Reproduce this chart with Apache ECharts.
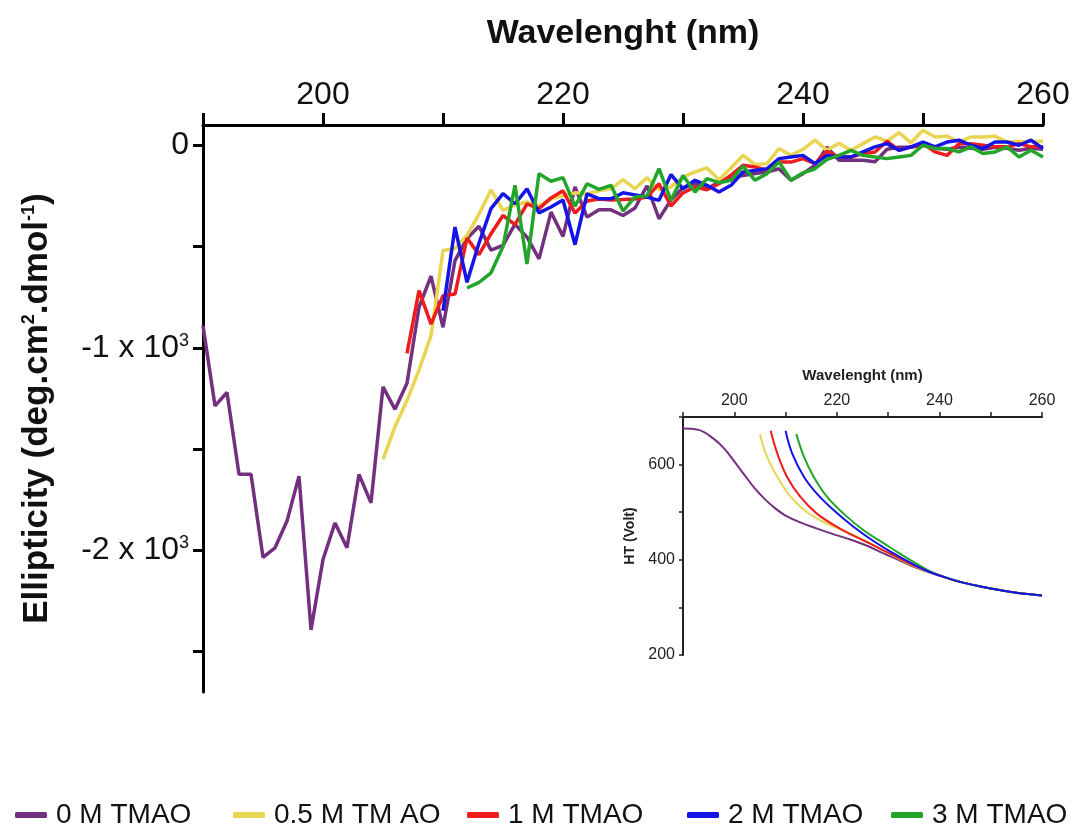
<!DOCTYPE html>
<html>
<head>
<meta charset="utf-8">
<script src="https://cdn.jsdelivr.net/npm/echarts@6/dist/echarts.min.js"></script>
<style>
html,body{margin:0;padding:0;background:#fff;}
#chart{width:1079px;height:834px;}
</style>
</head>
<body>
<div id="chart"></div>
<script>
// ---------- Data ----------
const seriesNames = ['0 M TMAO', '0.5 M TM AO', '1 M TMAO', '2 M TMAO', '3 M TMAO'];
const seriesColors = ['#73307f', '#e8d552', '#ee1c1c', '#1414e6', '#22a52a'];

// Main CD spectra: wavelength (nm) and ellipticity
const wl0 = [190,191,192,193,194,195,196,197,198,199,200,201,202,203,204,205,206,207,208,209,210,211,212,213,214,215,216,217,218,219,220,221,222,223,224,225,226,227,228,229,230,231,232,233,234,235,236,237,238,239,240,241,242,243,244,245,246,247,248,249,250,251,252,253,254,255,256,257,258,259,260];
const cd0 = [-891,-1287,-1221,-1625,-1625,-2035,-1988,-1856,-1634,-2393,-2046,-1865,-1988,-1625,-1766,-1193,-1304,-1175,-800,-646,-899,-570,-460,-400,-518,-495,-390,-454,-561,-330,-450,-206,-355,-318,-319,-347,-310,-200,-363,-270,-210,-190,-215,-182,-165,-149,-140,-132,-116,-173,-140,-99,-10,-74,-74,-74,-82,-20,-10,-10,0,-15,-20,-10,-15,-20,-10,-15,-25,-15,-20];

const wl05 = [205,206,207,208,209,210,211,212,213,214,215,216,217,218,219,220,221,222,223,224,225,226,227,228,229,230,231,232,233,234,235,236,237,238,239,240,241,242,243,244,245,246,247,248,249,250,251,252,253,254,255,256,257,258,259,260];
const cd05 = [-1551,-1390,-1260,-1110,-940,-520,-510,-445,-340,-221,-322,-295,-280,-300,-265,-250,-235,-240,-225,-215,-170,-215,-160,-220,-206,-157,-132,-112,-170,-112,-50,-95,-91,-16,-50,-20,25,-25,10,-25,8,41,20,62,12,74,41,45,15,41,41,45,16,18,18,20];

const wl1 = [207,208,209,210,211,212,213,214,215,216,217,218,219,220,221,222,223,224,225,226,227,228,229,230,231,232,233,234,235,236,237,238,239,240,241,242,243,244,245,246,247,248,249,250,251,252,253,254,255,256,257,258,259,260];
const cd1 = [-1028,-718,-883,-743,-735,-458,-540,-437,-347,-392,-289,-313,-260,-225,-335,-275,-265,-270,-268,-265,-256,-190,-300,-235,-206,-220,-190,-148,-99,-107,-124,-83,-83,-66,-91,-30,-58,-58,-41,-33,20,-25,-8,8,-33,-50,8,8,0,-8,-8,8,-8,-8];

const wl2 = [210,211,212,213,214,215,216,217,218,219,220,221,222,223,224,225,226,227,228,229,230,231,232,233,234,235,236,237,238,239,240,241,242,243,244,245,246,247,248,249,250,251,252,253,254,255,256,257,258,259,260];
const cd2 = [-817,-404,-677,-483,-313,-239,-289,-215,-334,-305,-270,-491,-240,-264,-264,-235,-245,-256,-272,-145,-215,-173,-198,-231,-198,-132,-124,-116,-66,-58,-50,-91,-50,-58,-58,-33,-8,8,-25,-8,16,-8,16,25,0,-16,16,16,0,25,-16];

const wl3 = [212,213,214,215,216,217,218,219,220,221,222,223,224,225,226,227,228,229,230,231,232,233,234,235,236,237,238,239,240,241,242,243,244,245,246,247,248,249,250,251,252,253,254,255,256,257,258,259,260];
const cd3 = [-705,-677,-630,-500,-198,-586,-140,-178,-160,-302,-190,-218,-198,-325,-255,-250,-116,-272,-150,-231,-165,-185,-173,-103,-173,-140,-83,-173,-136,-116,-70,-50,-25,-50,-58,-66,-58,-50,0,-16,-16,-33,-8,-41,-33,-8,-58,-25,-58];

// Inset: HT voltage
const htWl0 = [190,193,196,198,200,202,204,206,208,210,213,216,219,222.5,226,229,232,235.5,239,242,245,248.5,252,255,260];
const htV0  = [676,673,654,634,607,578,550,527,508,493,478,466,455,443,429,414,400,383,370,360,351,343,336,331,325];
const htWl05 = [205,206.4,208.4,211,214.2,218.1,222.6,227.1,230.4,234,237.5,242,245,248.5,252,255,260];
const htV05  = [664,616,574,532,500,476,455,431,412,392,376,360,351,343,336,331,325];
const htWl1 = [207.1,208.4,210.3,212.9,216.1,220.7,225.9,230.4,234,237.5,242,245,248.5,252,255,260];
const htV1  = [671,623,574,532,497,465,437,413,393,377,360,351,343,336,331,325];
const htWl2 = [210,211.3,213.6,216.1,219.4,223.3,227.2,231,234.5,238,242,245,248.5,252,255,260];
const htV2  = [671,623,574,539,504,469,439,414,393,375,360,351,343,336,331,325];
const htWl3 = [212.1,213.6,215.5,218.1,221.3,225.2,229.1,232.3,235.5,238.5,242,245,248.5,252,255,260];
const htV3  = [664,616,574,532,497,462,435,413,392,374,360,351,343,336,331,325];

// Axis tick labels
const mainXLabels = [200, 220, 240, 260];
const mainYTicks = [0, -500, -1000, -1500, -2000, -2500];
const mainYLabels = [0, -1000, -2000];
const insetYLabels = [200, 400, 600];

// ---------- Build ----------
const FONT = '"Liberation Sans", Arial, sans-serif';
const pair = (xs, ys) => xs.map((x, i) => [x, ys[i]]);
const mainSets = [pair(wl0, cd0), pair(wl05, cd05), pair(wl1, cd1), pair(wl2, cd2), pair(wl3, cd3)];
const insetSets = [pair(htWl0, htV0), pair(htWl05, htV05), pair(htWl1, htV1), pair(htWl2, htV2), pair(htWl3, htV3)];
const insetZ = [10, 11, 12, 14, 13];

const series = [];
mainSets.forEach((d, i) => series.push({
  name: seriesNames[i], type: 'line', xAxisIndex: 0, yAxisIndex: 0, data: d,
  showSymbol: false, symbol: 'none', lineStyle: { width: 3.5, color: seriesColors[i] },
  itemStyle: { color: seriesColors[i] }, z: 2 + i
}));
insetSets.forEach((d, i) => series.push({
  name: seriesNames[i], type: 'line', xAxisIndex: 1, yAxisIndex: 1, data: d,
  showSymbol: false, symbol: 'none', smooth: 0.4, lineStyle: { width: 2, color: seriesColors[i] },
  itemStyle: { color: seriesColors[i] }, z: insetZ[i]
}));

const legendLefts = [10, 228, 462, 682, 886];
const legends = seriesNames.map((n, i) => ({
  data: [n], left: legendLefts[i], top: 796, icon: 'roundRect', itemWidth: 32, itemHeight: 6,
  textStyle: { fontSize: 28, color: '#111', fontFamily: FONT, padding: [0, 0, 0, 4] },
  selectedMode: false
}));

const chart = echarts.init(document.getElementById('chart'), null, { renderer: 'canvas' });
chart.setOption({
  animation: false,
  backgroundColor: '#fff',
  legend: legends,
  grid: [
    { left: 203, top: 125, width: 840, height: 567, containLabel: false },
    { left: 683, top: 417, width: 359, height: 238, containLabel: false }
  ],
  xAxis: [
    {
      type: 'value', gridIndex: 0, position: 'top', min: 190, max: 260, interval: 10,
      axisLine: { show: true, onZero: false, lineStyle: { color: '#000', width: 3 } },
      axisTick: { show: true, length: 12, lineStyle: { color: '#000', width: 3 } },
      axisLabel: { margin: 14, fontSize: 32, color: '#111', fontFamily: FONT,
        formatter: v => mainXLabels.includes(v) ? String(v) : '' },
      splitLine: { show: false },
      name: 'Wavelenght (nm)', nameLocation: 'middle', nameGap: 74,
      nameTextStyle: { fontSize: 34, fontWeight: 'bold', color: '#111', fontFamily: FONT }
    },
    {
      type: 'value', gridIndex: 1, position: 'top', min: 190, max: 260, interval: 10,
      axisLine: { show: true, onZero: false, lineStyle: { color: '#222', width: 2 } },
      axisTick: { show: true, length: 5, lineStyle: { color: '#222', width: 1.5 } },
      axisLabel: { margin: 8, fontSize: 16, color: '#222', fontFamily: FONT,
        formatter: v => mainXLabels.includes(v) ? String(v) : '' },
      splitLine: { show: false },
      name: 'Wavelenght (nm)', nameLocation: 'middle', nameGap: 34,
      nameTextStyle: { fontSize: 15, fontWeight: 'bold', color: '#222', fontFamily: FONT }
    }
  ],
  yAxis: [
    {
      type: 'value', gridIndex: 0, min: -2700, max: 100,
      axisLine: { show: true, onZero: false, lineStyle: { color: '#000', width: 3 } },
      axisTick: { show: true, length: 10, customValues: mainYTicks, lineStyle: { color: '#000', width: 3 } },
      axisLabel: { margin: 14, fontSize: 32, color: '#111', fontFamily: FONT, customValues: mainYLabels,
        formatter: v => v === 0 ? '0' : (v / 1000) + ' x 10{sup|3}',
        rich: { sup: { fontSize: 18, verticalAlign: 'top', color: '#111', fontFamily: FONT, padding: [0, 0, 12, 0] } } },
      splitLine: { show: false },
      name: 'Ellipticity (deg.cm{s|2}.dmol{s|-1})', nameLocation: 'middle', nameRotate: 90, nameGap: 148,
      nameTextStyle: { fontSize: 35, fontWeight: 'bold', color: '#111', fontFamily: FONT,
        rich: { s: { fontSize: 18, fontWeight: 'bold', verticalAlign: 'top', fontFamily: FONT, color: '#111', padding: [0, 0, 16, 0] } } }
    },
    {
      type: 'value', gridIndex: 1, min: 200, max: 700, interval: 100,
      axisLine: { show: true, onZero: false, lineStyle: { color: '#222', width: 2 } },
      axisTick: { show: true, length: 4, lineStyle: { color: '#222', width: 1.5 } },
      axisLabel: { margin: 8, fontSize: 16, color: '#222', fontFamily: FONT,
        formatter: v => insetYLabels.includes(v) ? String(v) : '' },
      splitLine: { show: false },
      name: 'HT (Volt)', nameLocation: 'middle', nameRotate: 90, nameGap: 46,
      nameTextStyle: { fontSize: 14, fontWeight: 'bold', color: '#222', fontFamily: FONT }
    }
  ],
  series: series
});
</script>
</body>
</html>
